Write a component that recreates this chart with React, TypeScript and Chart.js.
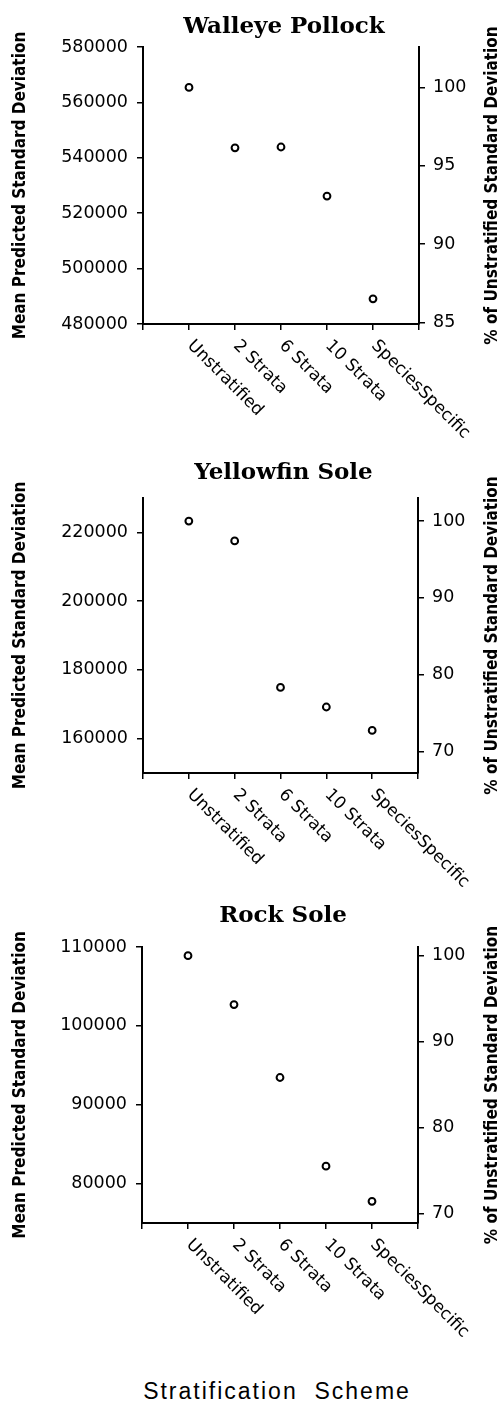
import React, { useEffect, useRef } from 'react';
import { Chart, registerables } from 'chart.js';

Chart.register(...registerables);

// ---------------- data ----------------
const categories = ['Unstratified', '2 Strata', '6 Strata', '10 Strata', 'SpeciesSpecific'];

const pollockValues = [565400, 543600, 543900, 526200, 489100];
const yellowfinValues = [223300, 217500, 174900, 169200, 162400];
const rockSoleValues = [108900, 102700, 93450, 82200, 77750];

const pollockTicks = [480000, 500000, 520000, 540000, 560000, 580000];
const yellowfinTicks = [160000, 180000, 200000, 220000];
const rockSoleTicks = [80000, 90000, 100000, 110000];

const pollockPctTicks = [85, 90, 95, 100];
const yellowfinPctTicks = [70, 80, 90, 100];
const rockSolePctTicks = [70, 80, 90, 100];

const pollockRange = [480000, 580000];
const yellowfinRange = [150000, 230000];
const rockSoleRange = [75000, 110000];

const panelTitles = ['Walleye Pollock', 'Yellowfin Sole', 'Rock Sole'];
const yTitle = 'Mean Predicted Standard Deviation';
const y1Title = '% of Unstratified Standard Deviation';
const xTitle = 'Stratification  Scheme';

// ---------------- layout / style ----------------
const W = 504;
const layouts = [
  { top: 0, height: 447, areaTop: 47, areaBottom: 324, titleY: 27, left: 143, right: 419 },
  { top: 447, height: 448, areaTop: 51, areaBottom: 326, titleY: 26, left: 143, right: 418 },
  { top: 895, height: 480, areaTop: 52, areaBottom: 328, titleY: 21, left: 142, right: 418 },
];
const TICK_FONT = { family: '"DejaVu Sans"', size: 17.5 };
const AXIS_TITLE_FONT = 'bold 17px "DejaVu Sans Condensed", "DejaVu Sans"';
const CAT_FONT = '17px "DejaVu Sans"';
const PANEL_TITLE_FONT = 'bold 23px "DejaVu Serif"';
const LEFT_TITLE_X = 21;
const RIGHT_TITLE_X = 493;

type Layout = typeof layouts[number];

function Panel(props: {
  lay: Layout;
  title: string;
  values: number[];
  ticks: number[];
  pctTicks: number[];
  range: number[];
}) {
  const { lay, title, values, ticks, pctTicks, range } = props;
  const ref = useRef<HTMLCanvasElement>(null);

  useEffect(() => {
    const canvas = ref.current!;
    const base = values[0];
    const xTickValues = Array.from({ length: categories.length + 2 }, (_, i) => i);

    const textPlugin = {
      id: 'panelText',
      afterDraw(chart: any) {
        const { ctx, chartArea: a } = chart;
        const xs = chart.scales.x;
        ctx.save();
        ctx.fillStyle = '#000';
        ctx.font = PANEL_TITLE_FONT;
        ctx.textAlign = 'center';
        ctx.textBaseline = 'middle';
        ctx.fillText(title, (a.left + a.right) / 2 + 3, lay.titleY);

        const cy = (a.top + a.bottom) / 2;
        ctx.font = AXIS_TITLE_FONT;
        ctx.save();
        ctx.translate(LEFT_TITLE_X, cy);
        ctx.rotate(-Math.PI / 2);
        ctx.fillText(yTitle, 0, 0);
        ctx.restore();
        ctx.save();
        ctx.translate(RIGHT_TITLE_X, cy);
        ctx.rotate(-Math.PI / 2);
        ctx.fillText(y1Title, 0, 0);
        ctx.restore();

        ctx.font = CAT_FONT;
        ctx.textAlign = 'left';
        ctx.textBaseline = 'middle';
        categories.forEach((c, i) => {
          const px = xs.getPixelForValue(i + 1);
          ctx.save();
          ctx.translate(px + 1, a.bottom + 19);
          ctx.rotate(Math.PI / 4);
          ctx.fillText(c, 0, 0);
          ctx.restore();
        });
        ctx.restore();
      },
    };

    const gridOpts = { drawOnChartArea: false, color: '#000', lineWidth: 1.5, tickLength: 6 };
    const borderOpts = { display: true, color: '#000', width: 2 };

    const chart = new Chart(canvas, {
      type: 'scatter',
      data: {
        datasets: [
          {
            data: values.map((v, i) => ({ x: i + 1, y: v })),
            xAxisID: 'x',
            yAxisID: 'y',
            pointRadius: 3.4,
            pointHoverRadius: 3.4,
            pointBorderWidth: 2,
            pointBorderColor: '#000',
            pointBackgroundColor: '#fff',
            showLine: false,
          },
        ],
      },
      options: {
        animation: false,
        responsive: false,
        devicePixelRatio: 1,
        events: [],
        layout: { padding: { top: lay.areaTop, left: 0, right: 0, bottom: 0 } },
        plugins: {
          legend: { display: false },
          tooltip: { enabled: false },
          title: { display: false },
        },
        scales: {
          x: {
            type: 'linear',
            position: 'bottom',
            min: 0,
            max: categories.length + 1,
            afterBuildTicks: (s: any) => {
              s.ticks = xTickValues.map((v) => ({ value: v }));
            },
            ticks: { display: false },
            grid: gridOpts,
            border: borderOpts,
            afterFit: (s: any) => {
              s.height = lay.height - lay.areaBottom;
            },
          },
          y: {
            type: 'linear',
            position: 'left',
            min: range[0],
            max: range[1],
            afterBuildTicks: (s: any) => {
              s.ticks = ticks.map((v) => ({ value: v }));
            },
            ticks: { font: TICK_FONT, color: '#000', padding: 9, callback: (v: any) => String(v) },
            grid: gridOpts,
            border: borderOpts,
            afterFit: (s: any) => {
              s.width = lay.left;
            },
          },
          y1: {
            type: 'linear',
            position: 'right',
            min: (range[0] / base) * 100,
            max: (range[1] / base) * 100,
            afterBuildTicks: (s: any) => {
              s.ticks = pctTicks.map((v) => ({ value: v }));
            },
            ticks: { font: TICK_FONT, color: '#000', padding: 8, callback: (v: any) => String(v) },
            grid: gridOpts,
            border: borderOpts,
            afterFit: (s: any) => {
              s.width = W - lay.right;
            },
          },
        },
      } as any,
      plugins: [textPlugin],
    });
    return () => chart.destroy();
  }, []);

  return (
    <canvas
      ref={ref}
      width={W}
      height={lay.height}
      style={{ position: 'absolute', left: 0, top: lay.top, width: W, height: lay.height, display: 'block' }}
    />
  );
}

export default function App() {
  return (
    <div
      style={{
        position: 'absolute',
        top: 0,
        left: 0,
        width: W,
        height: 1403,
        overflow: 'hidden',
        background: '#fff',
      }}
    >
      <Panel lay={layouts[0]} title={panelTitles[0]} values={pollockValues} ticks={pollockTicks} pctTicks={pollockPctTicks} range={pollockRange} />
      <Panel lay={layouts[1]} title={panelTitles[1]} values={yellowfinValues} ticks={yellowfinTicks} pctTicks={yellowfinPctTicks} range={yellowfinRange} />
      <Panel lay={layouts[2]} title={panelTitles[2]} values={rockSoleValues} ticks={rockSoleTicks} pctTicks={rockSolePctTicks} range={rockSoleRange} />
      <div
        style={{
          position: 'absolute',
          top: 1380,
          left: 143,
          width: 268,
          textAlign: 'center',
          font: '23px "Liberation Sans"',
          lineHeight: '23px',
          letterSpacing: '2px',
          whiteSpace: 'pre',
          color: '#000',
        }}
      >
        {xTitle}
      </div>
    </div>
  );
}
